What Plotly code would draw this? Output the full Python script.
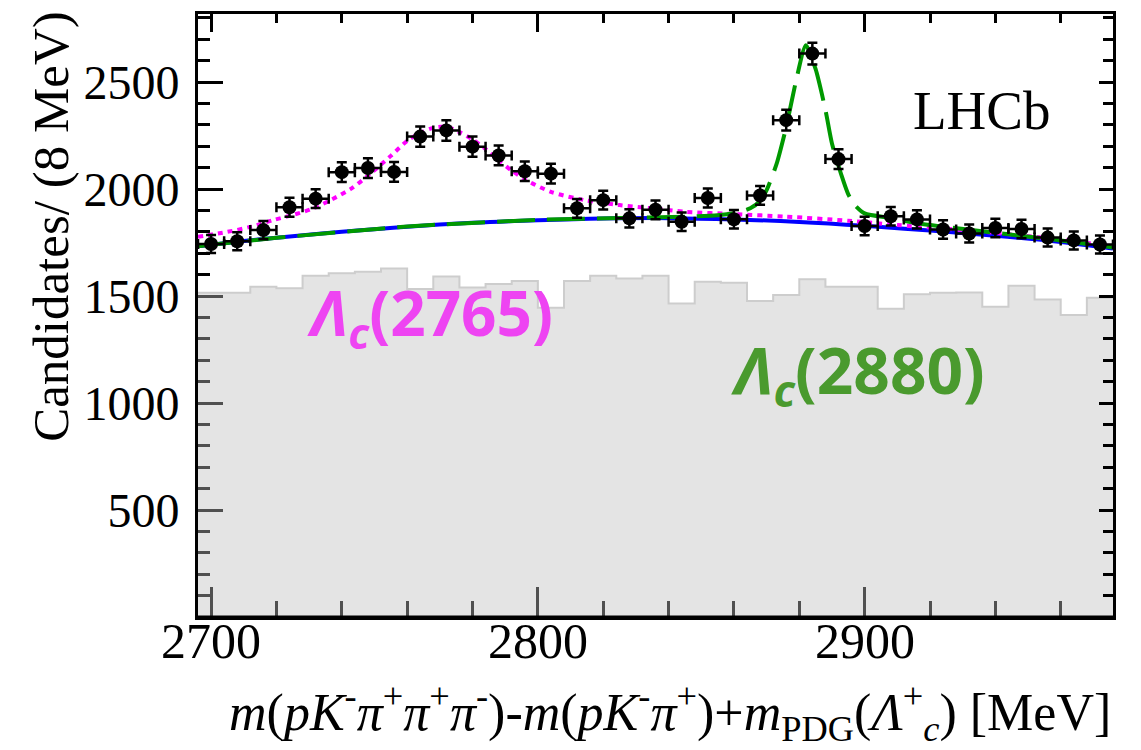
import plotly.graph_objects as go

# ---------------- data ----------------
bin_centers = [2700, 2708, 2716, 2724, 2732, 2740, 2748, 2756, 2764, 2772,
               2780, 2788, 2796, 2804, 2812, 2820, 2828, 2836, 2844, 2852,
               2860, 2868, 2876, 2884, 2892, 2900, 2908, 2916, 2924, 2932,
               2940, 2948, 2956, 2964, 2972]
counts = [1743, 1756, 1808, 1915, 1955, 2079, 2098, 2080, 2245, 2274,
          2198, 2157, 2083, 2072, 1910, 1948, 1863, 1903, 1847, 1958,
          1859, 1970, 2322, 2633, 2140, 1827, 1873, 1858, 1811, 1792,
          1818, 1813, 1773, 1760, 1741]
count_err = [42, 42, 43, 44, 44, 46, 46, 46, 47, 48,
             47, 46, 46, 46, 44, 44, 43, 44, 43, 44,
             43, 44, 48, 51, 46, 43, 43, 43, 43, 42,
             43, 43, 42, 42, 42]
bin_half_width = 4

# grey histogram (bin low edges, 8 MeV)
hist_edges = [2696, 2704, 2712, 2720, 2728, 2736, 2744, 2752, 2760, 2768,
              2776, 2784, 2792, 2800, 2808, 2816, 2824, 2832, 2840, 2848,
              2856, 2864, 2872, 2880, 2888, 2896, 2904, 2912, 2920, 2928,
              2936, 2944, 2952, 2960, 2968, 2976]
hist_vals = [1515, 1515, 1543, 1536, 1595, 1606, 1614, 1629, 1533, 1591,
             1540, 1556, 1570, 1445, 1570, 1595, 1582, 1595, 1465, 1567,
             1562, 1477, 1505, 1578, 1543, 1543, 1441, 1508, 1515, 1517,
             1450, 1548, 1484, 1411, 1492]

# background (blue, solid)
bkg_x = [2696, 2710, 2720, 2740, 2760, 2780, 2800, 2820, 2840, 2860,
         2880, 2900, 2920, 2940, 2960, 2976]
bkg_y = [1733, 1757, 1772, 1800, 1824, 1842, 1854, 1862, 1864, 1858,
         1846, 1828, 1806, 1782, 1753, 1722]

# background + Lambda_c(2765) (magenta, dotted)
l2765_x = [2696, 2705, 2712, 2719, 2725, 2731, 2737, 2743, 2749, 2755,
           2760, 2764, 2768, 2772, 2776, 2780, 2784, 2788, 2792, 2796,
           2804, 2814, 2825, 2835, 2845, 2860, 2876, 2895, 2910, 2938,
           2960, 2976]
l2765_y = [1777, 1800, 1823, 1855, 1879, 1908, 1952, 2003, 2075, 2155,
           2225, 2262, 2286, 2291, 2266, 2232, 2187, 2134, 2086, 2045,
           1987, 1949, 1925, 1910, 1894, 1883, 1871, 1852, 1832, 1798,
           1764, 1731]

# background + Lambda_c(2880) (green, dashed)
l2880_x = [2696, 2720, 2760, 2800, 2830, 2845, 2855, 2861, 2865, 2868,
           2870, 2873, 2876, 2879, 2882, 2885, 2888, 2890, 2893, 2895,
           2897, 2900, 2908, 2916, 2934, 2960, 2976]
l2880_y = [1733, 1772, 1825, 1856, 1866, 1870, 1878, 1890, 1910, 1945,
           1995, 2115, 2290, 2505, 2672, 2560, 2370, 2213, 2060, 1975,
           1925, 1886, 1864, 1840, 1806, 1760, 1727]

x_range = [2696, 2976]
y_range = [0, 2818]
x_ticks = [2700, 2800, 2900]
x_tick_labels = ["2700", "2800", "2900"]
y_ticks = [500, 1000, 1500, 2000, 2500]

# ---------------- figure ----------------
serif = "Liberation Serif"
fig = go.Figure()

fig.add_trace(go.Scatter(
    x=hist_edges, y=hist_vals + [hist_vals[-1]], mode="lines",
    line=dict(shape="hv", color="rgba(205,205,205,1)", width=2),
    fill="tozeroy", fillcolor="rgba(190,190,190,0.42)",
    hoverinfo="skip", showlegend=False))

fig.add_trace(go.Scatter(
    x=bkg_x, y=bkg_y, mode="lines",
    line=dict(color="#0000ff", width=4, shape="spline", smoothing=1.0),
    showlegend=False))

fig.add_trace(go.Scatter(
    x=l2765_x, y=l2765_y, mode="lines",
    line=dict(color="#ff00ff", width=4, dash="5px,5px", shape="spline", smoothing=0.8),
    showlegend=False))

fig.add_trace(go.Scatter(
    x=l2880_x, y=l2880_y, mode="lines",
    line=dict(color="#009900", width=4, dash="38px,12px", shape="spline", smoothing=0.6),
    showlegend=False))

fig.add_trace(go.Scatter(
    x=bin_centers, y=counts, mode="markers",
    marker=dict(color="black", size=14, symbol="circle"),
    error_y=dict(type="data", array=count_err, color="black", thickness=2.5, width=5),
    error_x=dict(type="constant", value=bin_half_width, color="black", thickness=2.5, width=5),
    showlegend=False))

# invisible trace so the top / right tick axes are drawn
fig.add_trace(go.Scatter(
    x=[x_range[0]], y=[y_range[0]], xaxis="x2", yaxis="y2", mode="markers",
    marker=dict(opacity=0), hoverinfo="skip", showlegend=False))

axis_common = dict(
    showline=True, linecolor="black", linewidth=3, mirror=True,
    ticks="inside", tickcolor="black", tickwidth=3,
    showgrid=False, zeroline=False, layer="below traces",
    tickfont=dict(family=serif, size=48, color="black"),
)

fig.update_layout(
    xaxis=dict(range=x_range, tickvals=x_ticks, ticklen=30, showticklabels=False,
               minor=dict(dtick=20, tick0=2700, ticklen=16, tickwidth=3,
                          ticks="inside", tickcolor="black", showgrid=False),
               **axis_common),
    yaxis=dict(range=y_range, tickvals=y_ticks, ticklen=25, ticklabelstandoff=6,
               minor=dict(dtick=100, tick0=0, ticklen=12, tickwidth=3,
                          ticks="inside", tickcolor="black", showgrid=False),
               **axis_common),
    xaxis2=dict(range=x_range, overlaying="x", side="top", anchor="y",
                tickvals=x_ticks, ticks="inside", ticklen=18, tickwidth=3,
                tickcolor="black", showticklabels=False, showline=False,
                showgrid=False, zeroline=False,
                minor=dict(dtick=20, tick0=2700, ticklen=9, tickwidth=3,
                           ticks="inside", tickcolor="black", showgrid=False)),
    yaxis2=dict(range=y_range, overlaying="y", side="right", anchor="x",
                tickvals=y_ticks, ticks="inside", ticklen=14, tickwidth=3,
                tickcolor="black", showticklabels=False, showline=False,
                showgrid=False, zeroline=False,
                minor=dict(dtick=100, tick0=0, ticklen=10, tickwidth=3,
                           ticks="inside", tickcolor="black", showgrid=False)),
)

x_title = ("<i>m</i>(<i>pK</i><sup>-</sup><i>π</i><sup>+</sup><i>π</i><sup>+</sup>"
           "<i>π</i><sup>-</sup>)-<i>m</i>(<i>pK</i><sup>-</sup><i>π</i><sup>+</sup>)"
           "+<i>m</i><sub>PDG</sub>(<i>Λ</i><sup>+</sup><sub><i>c</i></sub>) [MeV]")

annotations = [
    dict(text=x_title, xref="paper", yref="paper", x=1.0, y=-0.095,
         xanchor="right", yanchor="top", showarrow=False,
         font=dict(family=serif, size=52, color="black")),
    dict(text="Candidates/ (8 MeV)", xref="paper", yref="paper",
         x=-0.16, y=0.648, textangle=-90, xanchor="center", yanchor="middle",
         showarrow=False, font=dict(family=serif, size=51, color="black")),
    dict(text="LHCb", xref="x", yref="y", x=2936, y=2369,
         xanchor="center", yanchor="middle", showarrow=False,
         font=dict(family=serif, size=55, color="black")),
    dict(text="<b><i>Λ</i><sub><i>c</i></sub>(2765)</b>", xref="x", yref="y",
         x=2767, y=1405, xanchor="center", yanchor="middle", showarrow=False,
         font=dict(family="Open Sans", size=62, color="#ee44f2")),
    dict(text="<b><i>Λ</i><sub><i>c</i></sub>(2880)</b>", xref="x", yref="y",
         x=2898, y=1140, xanchor="center", yanchor="middle", showarrow=False,
         font=dict(family="Open Sans", size=64, color="#4a9a2e")),
]
for tv, tl in zip(x_ticks, x_tick_labels):
    annotations.append(dict(text=tl, xref="x", yref="paper", x=tv, y=-0.040,
                            xanchor="center", yanchor="middle", showarrow=False,
                            font=dict(family=serif, size=50, color="black")))

fig.update_layout(
    width=1141, height=750,
    margin=dict(l=198, r=28, t=14, b=133),
    plot_bgcolor="white", paper_bgcolor="white",
    annotations=annotations,
    shapes=[dict(type="line", xref="paper", yref="paper", x0=0, x1=1, y0=0, y1=0,
                 line=dict(color="black", width=3), layer="above")],
)

fig.write_html("out.html")
